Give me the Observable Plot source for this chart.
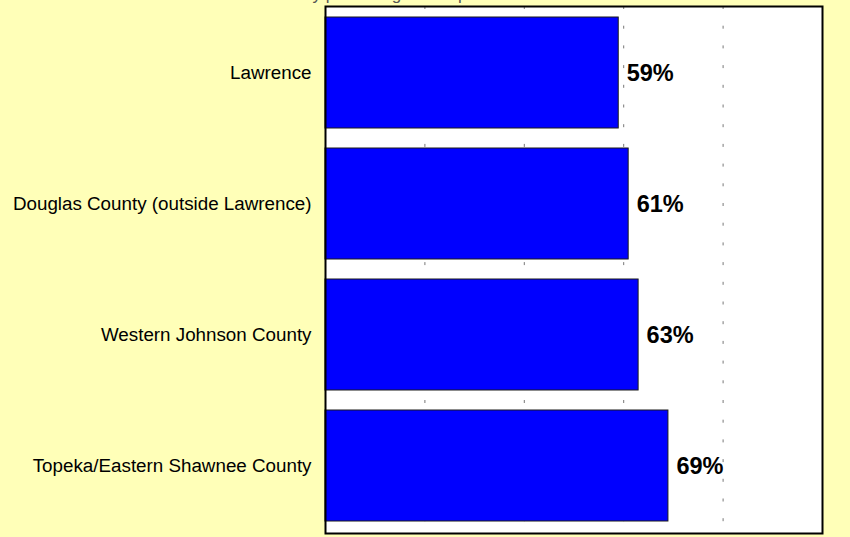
<!DOCTYPE html>
<html>
<head>
<meta charset="utf-8">
<script src="https://cdn.jsdelivr.net/npm/d3@7"></script>
<script src="https://cdn.jsdelivr.net/npm/@observablehq/plot@0.6"></script>
<style>
  html, body { margin: 0; padding: 0; background: #ffffb8; overflow: hidden; }
  #wrap { position: relative; width: 850px; height: 537px; }
  #title { position: absolute; top: -14px; left: 303px; font: 17px "Liberation Sans", Arial, sans-serif; color: #555; line-height: 17px; white-space: nowrap; z-index: 2; }
</style>
</head>
<body>
<div id="wrap">
  <div id="title">by percentage of respondents</div>
  <div id="chart"></div>
</div>
<script>
const categories = ["Lawrence", "Douglas County (outside Lawrence)", "Western Johnson County", "Topeka/Eastern Shawnee County"];
const values = [59, 61, 63, 69];
const gridTicks = [20, 40, 60, 80];

const data = categories.map((c, i) => ({category: c, value: values[i]}));

const chart = Plot.plot({
  width: 850,
  height: 537,
  marginLeft: 325,
  marginRight: 28,
  marginTop: 6,
  marginBottom: 4,
  style: {background: "#ffffb8", fontFamily: "'Liberation Sans', Arial, sans-serif", overflow: "visible"},
  x: {domain: [0, 100], axis: null},
  y: {domain: categories, paddingInner: 0.152, paddingOuter: 0.076, label: null},
  marks: [
    Plot.frame({fill: "white", stroke: null}),
    Plot.ruleX(gridTicks, {stroke: "#777", strokeWidth: 1, strokeDasharray: "3,16.7"}),
    Plot.barX(data, {x: "value", y: "category", fill: "#0000ff", stroke: "#1a1a1a", strokeWidth: 1}),
    Plot.text(data, {x: "value", y: "category", text: d => d.value + "%", dx: 8, textAnchor: "start", fontWeight: "bold", fontSize: 23.5, fill: "black"}),
    Plot.axisY({tickSize: 0, tickPadding: 14, fontSize: 18.8, fill: "black", label: null}),
    Plot.frame({stroke: "black", strokeWidth: 2, fill: "none"})
  ]
});
document.getElementById("chart").appendChild(chart);
</script>
</body>
</html>
